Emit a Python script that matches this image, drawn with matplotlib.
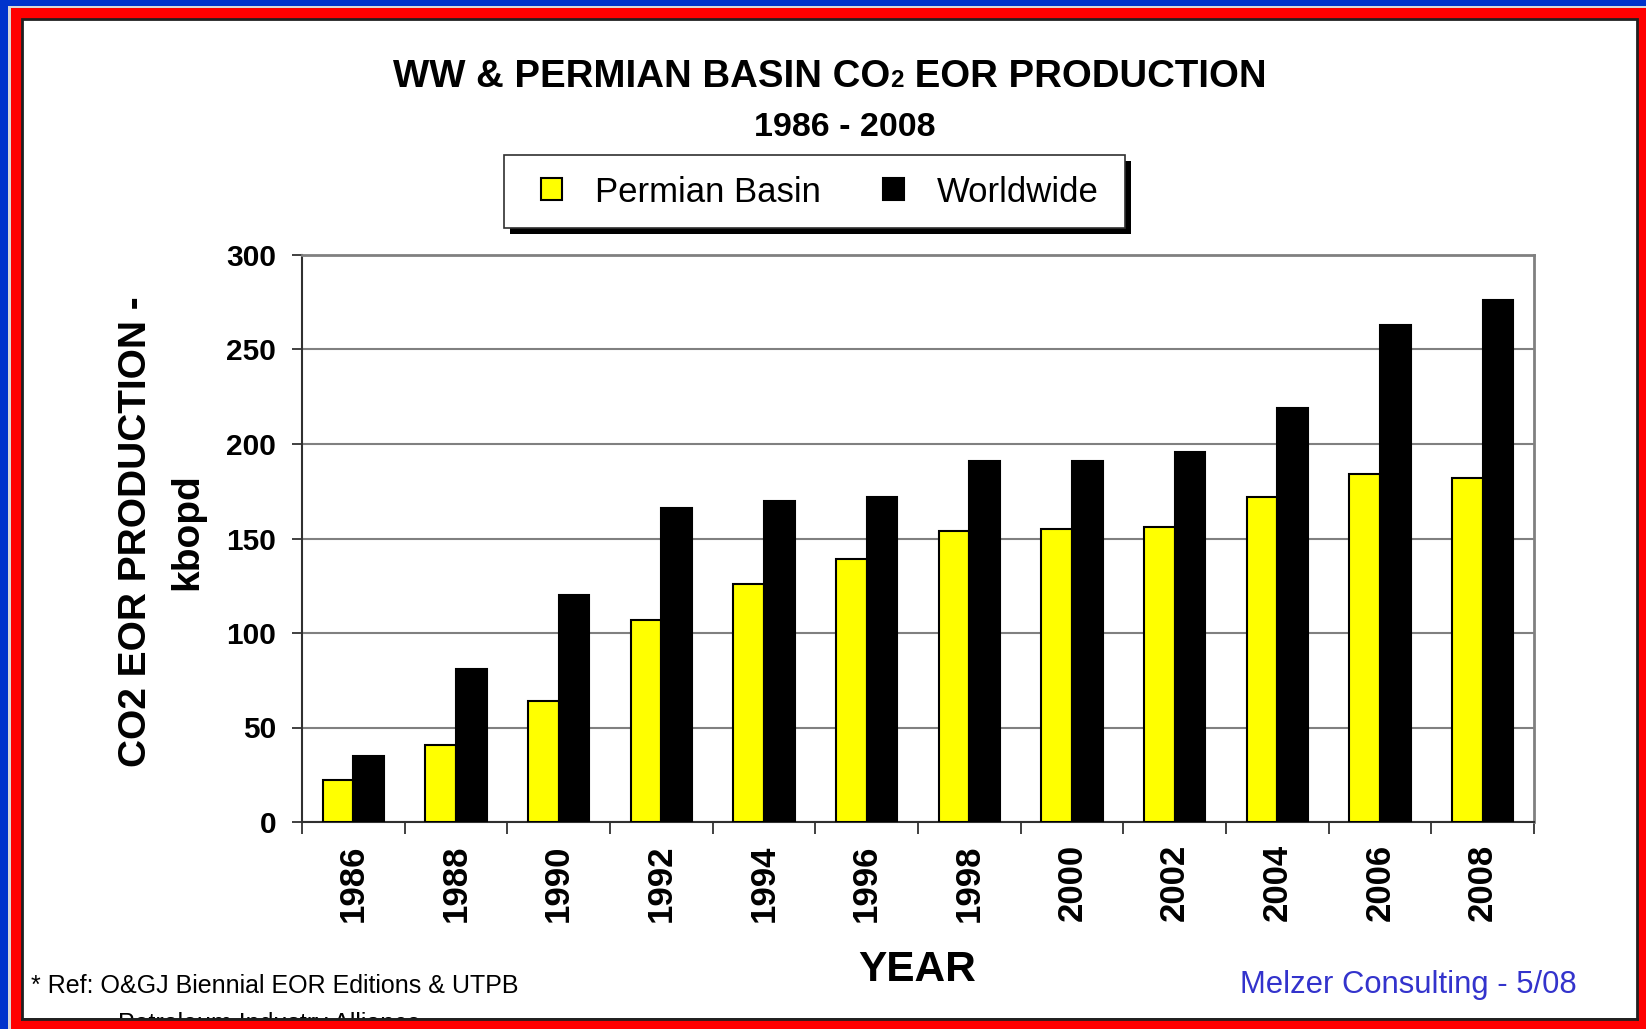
import matplotlib
matplotlib.use("Agg")
import matplotlib.pyplot as plt
from matplotlib.patches import Rectangle, Patch
import numpy as np

plt.rcParams['font.family'] = ['Liberation Sans', 'DejaVu Sans']

years = ["1986", "1988", "1990", "1992", "1994", "1996", "1998", "2000", "2002", "2004", "2006", "2008"]
permian = [22, 41, 64, 107, 126, 139, 154, 155, 156, 172, 184, 182]
worldwide = [35, 81, 120, 166, 170, 172, 191, 191, 196, 219, 263, 276]
yticks = [0, 50, 100, 150, 200, 250, 300]

W, H = 1646, 1029
fig = plt.figure(figsize=(W / 100, H / 100), dpi=100)
fig.patch.set_facecolor('#0033cc')

def fx(px):
    return px / W

def fy(py):
    return 1 - py / H

def frect(x0, y0, x1, y1, **kw):
    r = Rectangle((fx(x0), fy(y1)), fx(x1) - fx(x0), fy(y0) - fy(y1),
                  transform=fig.transFigure, **kw)
    fig.add_artist(r)
    return r

# frame
frect(8, 6, W + 5, H + 5, facecolor='#d8d8d8', edgecolor='none', zorder=-10)
frect(11, 8, W + 5, H + 5, facecolor='#ff0000', edgecolor='none', zorder=-9)
frect(22, 19, 1637, 1019, facecolor='white', edgecolor='#202020', lw=2, zorder=-8)

# axes
ax = fig.add_axes([fx(302), fy(822), fx(1534) - fx(302), fy(255) - fy(822)])
ax.set_facecolor('white')
x = np.arange(len(years))
bw = 0.3
ax.bar(x - bw / 2, permian, bw, color='#ffff00', edgecolor='black', linewidth=1.5, zorder=3)
ax.bar(x + bw / 2, worldwide, bw, color='black', edgecolor='black', linewidth=1.5, zorder=3)
ax.set_xlim(-0.5, len(years) - 0.5)
ax.set_ylim(0, 300)
ax.set_yticks(yticks)
ax.set_yticklabels([str(v) for v in yticks], fontsize=21.5, fontweight='bold')
ax.yaxis.grid(True, color='#808080', linewidth=1.5, zorder=0)
ax.set_axisbelow(True)

ax.set_xticks(np.arange(-0.5, len(years), 1.0))
ax.set_xticklabels([])
ax.set_xticks(x, minor=True)
ax.set_xticklabels(years, minor=True, rotation=90, fontsize=25, fontweight='bold')
ax.tick_params(axis='x', which='major', length=8.6, width=1.2, color='#202020', direction='out')
ax.tick_params(axis='x', which='minor', length=0, pad=16)
ax.tick_params(axis='y', length=7.2, width=1.2, color='#202020', pad=11.5)

for s in ['left', 'bottom']:
    ax.spines[s].set_color('#303030')
    ax.spines[s].set_linewidth(1.5)
for s in ['top', 'right']:
    ax.spines[s].set_color('#808080')
    ax.spines[s].set_linewidth(2)

# y label
fig.text(fx(136), fy(532), "CO2 EOR PRODUCTION -", rotation=90, ha='center', va='center',
         fontsize=28, fontweight='bold')
fig.text(fx(187), fy(532), "kbopd", rotation=90, ha='center', va='center',
         fontsize=28, fontweight='bold')

# x label
fig.text(fx(917), fy(970), "YEAR", ha='center', va='center', fontsize=30.5, fontweight='bold')

# title
renderer = fig.canvas.get_renderer()
parts = [("WW & PERMIAN BASIN CO", 27.6), ("2", 17.5), (" EOR PRODUCTION", 27.6)]
texts = [fig.text(0, fy(87), s, fontsize=fs, fontweight='bold', ha='left', va='baseline')
         for s, fs in parts]
widths = [t.get_window_extent(renderer).width for t in texts]
xs = 830 - sum(widths) / 2
for t, w in zip(texts, widths):
    t.set_x(fx(xs))
    xs += w
fig.text(fx(845), fy(127), "1986 - 2008", ha='center', va='center', fontsize=24.5, fontweight='bold')

# legend box + shadow
frect(510, 161, 1131, 234, facecolor='black', edgecolor='none', zorder=4)
frect(504, 155, 1125, 228, facecolor='white', edgecolor='#303030', lw=1.2, zorder=5)
handles = [Patch(facecolor='#ffff00', edgecolor='black', linewidth=1.5),
           Patch(facecolor='black', edgecolor='black', linewidth=1.5)]
leg = fig.legend(handles, ["Permian Basin", "Worldwide"], loc='center',
                 bbox_to_anchor=(fx(820), fy(192)), ncol=2, frameon=False, fontsize=25,
                 handlelength=0.6, handleheight=0.6, handletextpad=0.95, columnspacing=1.8)
leg.set_zorder(6)

# footer
fig.text(fx(31), fy(993), "* Ref: O&GJ Biennial EOR Editions & UTPB", ha='left', va='baseline',
         fontsize=18)
fig.text(fx(118), fy(1031), "Petroleum Industry Alliance", ha='left', va='baseline',
         fontsize=18, zorder=1)
frect(22, 1019, 1637, H + 5, facecolor='#ff0000', edgecolor='none', zorder=7)
fig.add_artist(plt.Line2D([fx(22), fx(1637)], [fy(1019), fy(1019)], color='#202020', lw=2,
                          transform=fig.transFigure, zorder=8))
fig.text(fx(1577), fy(985), "Melzer Consulting - 5/08", ha='right', va='center',
         fontsize=22.3, color='#3333cc')

fig.savefig("out.png", dpi=100, facecolor=fig.get_facecolor())
